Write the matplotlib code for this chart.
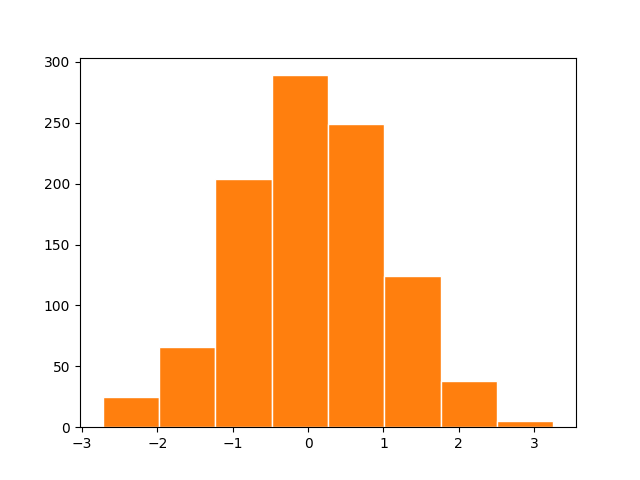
import numpy as np
import matplotlib
matplotlib.use("Agg")
import matplotlib.pyplot as plt

# histogram: 8 bins
bin_edges = [-2.727, -1.979, -1.231, -0.483, 0.265, 1.013, 1.761, 2.508, 3.256]
counts = [25, 66, 204, 289, 249, 124, 38, 5]

centers = [(a + b) / 2 for a, b in zip(bin_edges[:-1], bin_edges[1:])]

fig, ax = plt.subplots(figsize=(6.4, 4.8), dpi=100)
ax.hist(centers, bins=bin_edges, weights=counts, color="#ff7f0e",
        edgecolor="white", linewidth=1)

fig.savefig("out.png")
